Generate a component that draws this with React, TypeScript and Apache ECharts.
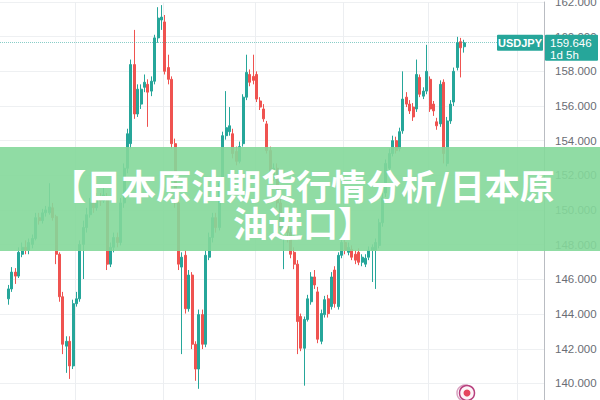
import React, { useEffect, useRef } from "react";
import * as echarts from "echarts";

const symbolName = "USDJPY";
const lastPrice = 159.646;
const countdown = "1d 5h";
const titleText = "【日本原油期货行情分析/日本原\n油进口】";

const totalSlots = 160;
const firstSlot = 2;
const monthLineSlots = [22, 48, 75, 101, 126, 152];
const yMin = 138;
const yMax = 162;
const yStep = 2;

const opens = [
  144.88, 145.45, 146.42, 146.19, 147.45, 147.85, 147.68, 148.02, 148.36, 149.56,
  149.39, 149.84, 149.84, 150.13, 149.62, 147.45, 145.0, 142.15, 142.43, 141.01,
  144.6, 144.88, 148.02, 148.99, 149.73, 150.41, 150.13, 150.7, 150.53, 150.7,
  146.88, 147.85, 148.42, 148.13, 150.41, 152.41, 153.83, 158.39, 155.54, 156.11,
  157.08, 157.25, 156.86, 157.43, 159.93, 160.96, 160.85, 158.22, 157.54, 153.83,
  150.41, 146.71, 147.39, 144.31, 146.25, 142.26, 140.83, 143.97, 142.26, 147.28,
  148.42, 149.56, 148.99, 151.55, 154.29, 154.52, 154.4, 153.38, 152.81, 153.83,
  156.51, 157.82, 157.71, 157.82, 156.29, 155.83, 154.97, 153.43, 151.84, 152.41,
  150.41, 148.99, 149.56, 148.7, 147.56, 146.88, 143.86, 142.03, 143.69, 144.71,
  146.14, 145.28, 142.43, 143.97, 144.88, 144.43, 146.54, 144.43, 147.39, 148.13,
  147.56, 147.73, 147.45, 147.56, 146.99, 146.88, 147.28, 147.68, 147.68, 147.96,
  149.27, 150.98, 152.41, 153.26, 154.0, 153.55, 154.57, 156.51, 156.11, 155.94,
  155.83, 157.65, 156.57, 156.86, 157.54, 156.11, 155.09, 154.97, 157.37, 152.69,
  155.14, 156.23, 158.22, 159.71, 159.42,
];
const closes = [
  145.45, 146.42, 146.19, 147.56, 147.85, 147.68, 148.13, 148.36, 149.56, 149.39,
  149.84, 150.01, 150.18, 149.56, 147.45, 145.0, 142.26, 142.43, 141.01, 144.6,
  144.88, 148.02, 148.99, 149.73, 150.41, 150.13, 150.7, 150.53, 150.87, 146.88,
  147.85, 148.42, 148.13, 150.41, 152.41, 154.4, 158.39, 155.54, 156.97, 156.97,
  157.37, 156.8, 157.43, 159.93, 161.07, 161.13, 158.0, 157.54, 153.83, 150.41,
  146.88, 147.28, 144.31, 146.25, 142.26, 140.83, 143.97, 142.26, 147.39, 148.42,
  149.56, 148.99, 151.55, 154.29, 154.75, 154.86, 153.26, 152.81, 153.66, 156.51,
  157.94, 157.37, 157.48, 156.4, 155.94, 155.26, 153.43, 151.84, 152.41, 150.41,
  148.99, 149.56, 148.7, 147.45, 146.88, 143.57, 142.03, 143.69, 144.88, 146.14,
  145.68, 142.55, 144.03, 144.83, 144.03, 146.14, 144.6, 147.39, 148.13, 147.68,
  147.85, 147.28, 147.11, 146.99, 147.28, 147.22, 147.68, 147.85, 148.13, 149.27,
  150.7, 152.69, 153.26, 154.0, 153.43, 154.52, 156.4, 156.11, 155.72, 155.37,
  157.82, 156.68, 156.86, 158.0, 155.83, 155.72, 154.86, 157.25, 153.26, 155.14,
  156.11, 158.0, 159.65, 159.36, 159.646,
];
const lows = [
  144.54, 145.28, 145.74, 146.08, 147.28, 147.45, 147.45, 147.79, 148.25, 149.16,
  149.22, 149.62, 149.73, 149.39, 146.88, 144.71, 141.69, 140.61, 140.26, 140.83,
  144.43, 144.71, 146.02, 148.7, 149.56, 149.84, 149.96, 150.24, 150.41, 146.54,
  146.71, 147.56, 147.85, 147.96, 150.13, 152.12, 153.55, 155.26, 155.37, 155.83,
  156.8, 154.8, 156.57, 157.25, 159.65, 160.39, 157.82, 157.25, 153.55, 150.13,
  146.54, 141.69, 144.03, 144.14, 141.98, 140.15, 139.69, 141.98, 142.09, 147.11,
  148.13, 148.7, 148.82, 151.27, 154.06, 154.29, 152.98, 152.58, 152.69, 153.66,
  156.34, 157.14, 157.25, 156.23, 155.77, 155.09, 153.26, 151.55, 151.67, 150.13,
  148.7, 146.59, 148.13, 147.22, 146.59, 141.69, 141.86, 139.87, 143.57, 144.54,
  145.45, 142.32, 142.26, 143.8, 143.8, 144.26, 144.37, 144.26, 147.22, 147.45,
  147.39, 147.11, 146.88, 146.82, 146.76, 146.71, 147.11, 145.85, 145.45, 147.79,
  149.04, 150.75, 152.24, 153.09, 153.26, 153.38, 154.4, 155.94, 155.54, 155.14,
  155.66, 156.51, 156.4, 156.68, 155.66, 155.43, 154.63, 154.8, 152.69, 152.52,
  154.97, 156.0, 158.05, 157.65, 159.08,
];
const highs = [
  145.68, 146.71, 146.65, 147.85, 148.13, 148.25, 148.36, 148.59, 149.84, 149.84,
  150.07, 150.24, 151.55, 150.41, 149.73, 147.56, 145.28, 142.72, 142.72, 144.83,
  145.28, 148.25, 149.39, 150.13, 150.7, 150.7, 150.98, 150.98, 151.27, 150.98,
  148.13, 148.7, 148.7, 150.7, 152.69, 154.69, 158.68, 160.39, 157.25, 157.25,
  157.82, 157.54, 157.71, 160.11, 161.7, 161.82, 161.25, 158.96, 157.71, 154.12,
  150.7, 147.56, 147.68, 146.54, 146.42, 142.43, 144.26, 144.26, 147.68, 148.7,
  149.84, 149.84, 151.84, 154.52, 156.86, 155.94, 154.69, 153.66, 153.95, 156.68,
  158.96, 158.11, 158.96, 158.0, 156.51, 156.11, 155.14, 153.66, 152.69, 152.69,
  150.7, 149.84, 149.84, 148.99, 147.85, 147.11, 144.03, 143.86, 145.11, 146.42,
  146.54, 145.57, 144.26, 145.05, 145.11, 146.42, 146.76, 147.56, 148.42, 148.36,
  148.13, 147.96, 147.68, 147.79, 147.45, 147.45, 147.9, 148.02, 148.36, 149.5,
  150.98, 152.92, 153.55, 154.29, 154.23, 154.75, 158.0, 156.8, 156.34, 156.17,
  158.68, 157.82, 157.08, 159.53, 157.71, 156.29, 155.32, 157.48, 157.54, 155.37,
  156.34, 158.22, 159.99, 159.93, 159.82,
];

const UP = "#26a69a";
const DOWN = "#ef5350";

// the chart canvas is taller than the 400px window and shifted up a little,
// so that the 2-unit ticks (from 138 to 162) fall where the reference draws them
const SHIFT = 4;
const CANVAS_H = 424;

export default function App() {
  const ref = useRef<HTMLDivElement>(null);

  useEffect(() => {
    document.documentElement.style.overflow = "hidden";
    document.body.style.margin = "0";
    document.body.style.overflow = "hidden";
    if (!ref.current) return;
    const chart = echarts.init(ref.current, null, { renderer: "svg" });

    const categories = Array.from({ length: totalSlots }, (_, i) => String(i));
    const candles = opens.map((o, i) => [firstSlot + i, o, closes[i], lows[i], highs[i]]);

    const gridRight = 56;

    chart.setOption({
      animation: false,
      backgroundColor: "#ffffff",
      grid: { left: 0, right: gridRight, top: 0.76, bottom: 1.9, containLabel: false },
      xAxis: {
        type: "category",
        data: categories,
        boundaryGap: true,
        axisLine: { show: false },
        axisTick: { show: false },
        axisLabel: { show: false },
        splitLine: {
          show: true,
          interval: (index: number) => monthLineSlots.includes(index),
          lineStyle: { color: "#eceef1", width: 1 },
        },
      },
      yAxis: {
        type: "value",
        position: "right",
        min: yMin,
        max: yMax,
        interval: yStep,
        axisLine: { show: true, lineStyle: { color: "#b9bcc2", width: 1 } },
        axisTick: { show: false },
        axisLabel: {
          color: "#6a6d74",
          fontSize: 11.5,
          fontFamily: "Liberation Sans",
          margin: 11,
          formatter: (v: number) => (v <= yMin ? "" : v.toFixed(3)),
        },
        splitLine: { show: true, lineStyle: { color: "#eef0f2", width: 1 } },
      },
      series: [
        {
          type: "candlestick",
          data: candles,
          encode: { x: 0, y: [1, 2, 3, 4] },
          barWidth: 2.6,
          itemStyle: {
            color: UP,
            color0: DOWN,
            borderColor: UP,
            borderColor0: DOWN,
            borderWidth: 1,
          },
          markLine: {
            silent: true,
            symbol: "none",
            label: { show: false },
            lineStyle: { color: "rgba(38,166,154,0.55)", type: "dotted", width: 1 },
            data: [{ yAxis: lastPrice }],
          },
        },
      ],
    });

    const py = chart.convertToPixel({ yAxisIndex: 0 }, lastPrice) as number;
    const rx = 600 - gridRight;
    const fontCJK = '"Noto Sans CJK SC", "Noto Sans", sans-serif';
    const Y = (pageY: number) => pageY + SHIFT;

    chart.setOption({
      graphic: [
        {
          type: "rect",
          z: 100,
          shape: { x: rx - 47, y: py - 8, width: 46, height: 16, r: 1 },
          style: { fill: UP },
        },
        {
          type: "text",
          z: 101,
          x: rx - 24,
          y: py,
          style: {
            text: symbolName,
            fill: "#ffffff",
            font: 'bold 11px "Liberation Sans", sans-serif',
            textAlign: "center",
            textVerticalAlign: "middle",
          },
        },
        {
          type: "rect",
          z: 100,
          shape: { x: rx + 1, y: py - 8, width: 53, height: 26, r: 1 },
          style: { fill: UP },
        },
        {
          type: "text",
          z: 101,
          x: rx + 6,
          y: py - 6,
          style: {
            text: lastPrice.toFixed(3) + "\n" + countdown,
            fill: "#ffffff",
            font: '11.5px "Liberation Sans", sans-serif',
            lineHeight: 12,
            textAlign: "left",
            textVerticalAlign: "top",
          },
        },
        {
          type: "rect",
          z: 200,
          shape: { x: 0, y: Y(147), width: 600, height: 104 },
          style: { fill: "rgba(132, 216, 154, 0.9)" },
        },
        {
          type: "text",
          z: 201,
          x: 303,
          y: Y(203),
          style: {
            text: titleText,
            fill: "#ffffff",
            font: `bold 35px ${fontCJK}`,
            lineHeight: 37,
            textAlign: "center",
            textVerticalAlign: "middle",
          },
        },
        {
          type: "circle",
          z: 150,
          shape: { cx: 465, cy: Y(393), r: 8 },
          style: { fill: "#ffffff", stroke: "#d9a3c2", lineWidth: 1.5 },
        },
        {
          type: "circle",
          z: 151,
          shape: { cx: 467, cy: Y(393), r: 7.5 },
          style: { fill: "#fdf4f8", stroke: "#b8407e", lineWidth: 1.5 },
        },
        {
          type: "circle",
          z: 152,
          shape: { cx: 467, cy: Y(393), r: 3.5 },
          style: { fill: "#e5455e" },
        },
      ],
    });

    return () => chart.dispose();
  }, []);

  return (
    <div
      ref={ref}
      style={{ position: "absolute", left: 0, top: -SHIFT, width: 600, height: CANVAS_H }}
    />
  );
}
